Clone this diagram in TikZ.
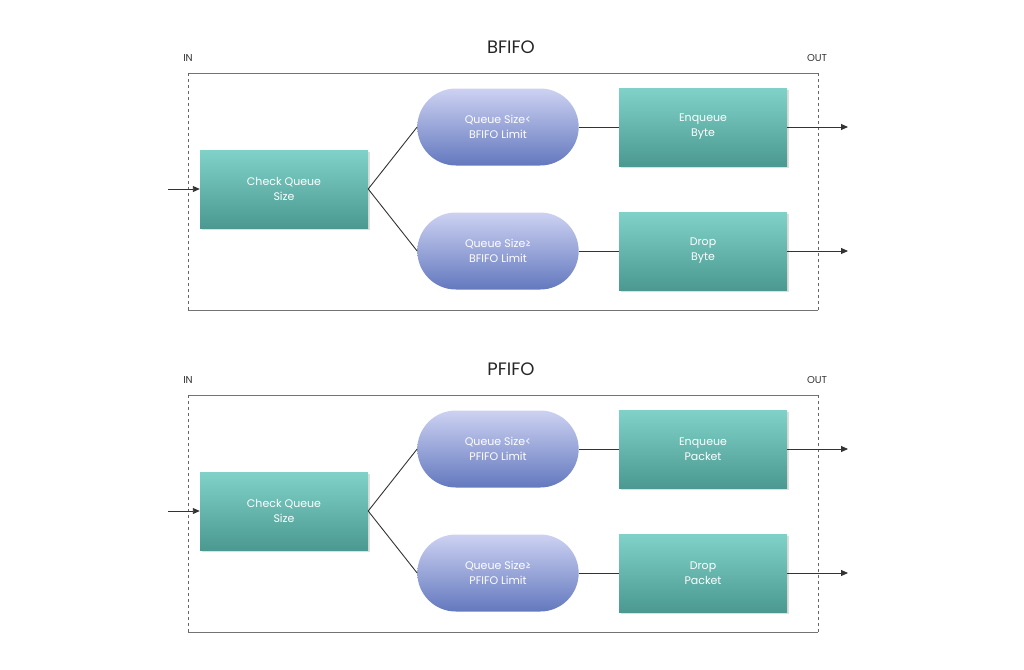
\documentclass[tikz,border=0pt]{standalone}
\usepackage{fontspec}
\setmainfont{Poppins}
\usetikzlibrary{shapes.misc,arrows.meta,shadows}
\definecolor{tealT}{HTML}{80D2C9}
\definecolor{tealB}{HTML}{4B9990}
\definecolor{pillT}{HTML}{CDD2F2}
\definecolor{pillB}{HTML}{6378BE}
\definecolor{edge}{HTML}{333333}
\tikzset{
 box/.style={draw=none,top color=tealT,bottom color=tealB,minimum width=168pt,minimum height=78pt,text=white,align=center,font=\fontsize{11}{15}\selectfont,drop shadow={opacity=0.25,shadow xshift=1.5pt,shadow yshift=-1.5pt}},
 pill/.style={rounded rectangle,draw=none,top color=pillT,bottom color=pillB,minimum width=168pt,minimum height=77pt,text=white,align=center,font=\fontsize{11}{15}\selectfont},
 ln/.style={draw=edge,line width=0.9pt},
 arr/.style={ln,-{Triangle[length=7pt,width=6pt]}},
 ttl/.style={font=\fontsize{18}{20}\selectfont,text=black!85},
 lab/.style={font=\fontsize{10}{12}\selectfont,text=black!80},
}
\begin{document}
\begin{tikzpicture}[x=1pt,y=-1pt]
\useasboundingbox (0,0) rectangle (1024,669);
\foreach \dy/\nm/\unit/\p in {0/BFIFO/Byte/a,322/PFIFO/Packet/b}{
 \draw[draw=black!55,line width=1pt] (188,73+\dy) -- (818,73+\dy);
 \draw[draw=black!55,line width=1pt] (188,310+\dy) -- (818,310+\dy);
 \draw[draw=black!60,dashed,line width=0.6pt] (188,73+\dy) -- (188,310+\dy);
 \draw[draw=black!60,dashed,line width=0.6pt] (818,73+\dy) -- (818,310+\dy);
 \node[ttl] (t\p) at (511,47+\dy) {\nm};
 \node[lab] (in\p) at (188,58+\dy) {IN};
 \node[lab] (out\p) at (817,58+\dy) {OUT};
 \node[box] (c\p) at (284,189+\dy) {Check Queue\\Size};
 \node[pill] (l\p) at (498,127+\dy) {Queue Size<\\\nm{} Limit};
 \node[pill] (g\p) at (498,251+\dy) {Queue Size≥\\\nm{} Limit};
 \node[box] (e\p) at (703,127+\dy) {Enqueue\\\unit};
 \node[box] (d\p) at (703,251+\dy) {Drop\\\unit};
 \coordinate (s\p) at (168,189+\dy);
 \coordinate (o1\p) at (848,127+\dy);
 \coordinate (o2\p) at (848,251+\dy);
 \draw[arr] (s\p) -- (c\p.west);
 \draw[ln] (c\p.east) -- (l\p.west);
 \draw[ln] (c\p.east) -- (g\p.west);
 \draw[ln] (l\p.east) -- (e\p.west);
 \draw[ln] (g\p.east) -- (d\p.west);
 \draw[arr] (e\p.east) -- (o1\p);
 \draw[arr] (d\p.east) -- (o2\p);
}
\end{tikzpicture}
\end{document}
